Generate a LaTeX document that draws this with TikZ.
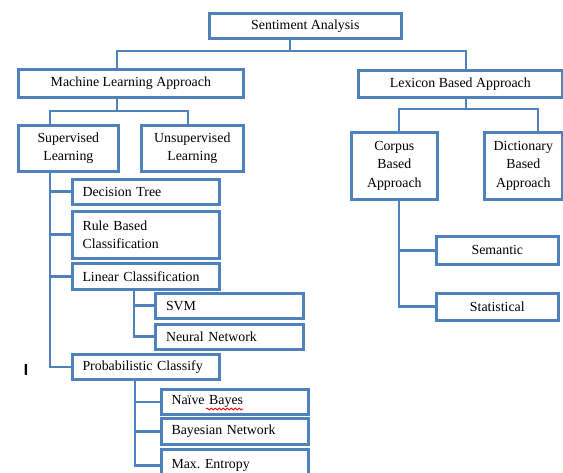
\documentclass[tikz,border=0pt]{standalone}
\usepackage{fontspec}
\setmainfont{Liberation Serif}
\usetikzlibrary{positioning,decorations.pathmorphing}
\definecolor{boxblue}{RGB}{79,129,189}

\tikzset{
  box/.style={draw=boxblue, line width=2pt, fill=white, inner sep=0pt,
    align=center, anchor=north west, font=\fontsize{10.4}{14}\selectfont},
  sz/.style 2 args={minimum width=#1*0.75pt, minimum height=#2*0.75pt},
  leaf/.style={box, align=left, text width=95pt, inner xsep=7.5pt},
  link/.style={draw=boxblue, line width=2pt},
  down/.style={to path={-| (\tikztotarget)}},
  side/.style={to path={|- (\tikztotarget)}},
}

\begin{document}
\begin{tikzpicture}[x=0.75pt, y=-0.75pt]
  \useasboundingbox (0,0) rectangle (563,473);
  % top levels
  \node[box, sz={192}{25}] (sa) at (208,12) {Sentiment Analysis};
  \node[box, sz={225}{28}] (ml) at (17,68) {Machine Learning Approach};
  \node[box, sz={204}{27}] (lex) at (357,69) {Lexicon Based Approach};
  \node[box, sz={100}{46}] (sup) at (17,124) {Supervised\\Learning};
  \node[box, sz={102}{46}] (uns) at (140,124) {Unsupervised\\Learning};
  \node[box, sz={86}{67}] (corp) at (350,131) {Corpus\\Based\\Approach};
  \node[box, sz={78}{67}] (dict) at (483,131) {Dictionary\\Based\\Approach};
  \node[box, sz={122}{28}] (sem) at (435,235) {Semantic};
  \node[box, sz={122}{27}] (stat) at (435,292) {Statistical};
  % supervised methods
  \node[leaf, sz={147}{25}] (dt) at (71,178) {Decision Tree};
  \node[leaf, sz={147}{47}] (rule) at (71,210) {Rule Based\\Classification};
  \node[leaf, sz={147}{26}] (lin) at (71,262) {Linear Classification};
  \node[leaf, sz={148}{25}] (svm) at (154,292) {SVM};
  \node[leaf, sz={148}{25}] (nn) at (154,323) {Neural Network};
  \node[leaf, sz={147}{25}] (prob) at (71,353) {Probabilistic Classify};
  \node[leaf, sz={147}{25}] (nb) at (160,388) {Naïve Bayes};
  \node[leaf, sz={147}{26}] (bn) at (160,417) {Bayesian Network};
  \node[leaf, sz={147}{32}] (me) at (160,448) {Max.\ Entropy};
  \node[font=\sffamily\bfseries\fontsize{12}{12}\selectfont] (cursor) at (26,370) {I};
  \draw[red, line width=0.6pt, decorate,
    decoration={snake, amplitude=0.7pt, segment length=3pt}] (206,409) -- (243,409);

  % junctions
  \coordinate (top-bus) at (290,51);
  \coordinate (ml-bus) at (117,111);
  \coordinate (lex-bus) at (466,109);
  \coordinate (sup-x) at (50,0);
  \coordinate (uns-x) at (188,0);
  \coordinate (corp-x) at (399,0);
  \coordinate (dict-x) at (538,0);
  \coordinate (lin-x) at (134,0);
  \coordinate (prob-x) at (135,0);

  \path[link]
    (sa.south -| top-bus) edge (top-bus)
    (top-bus) edge[down] (ml.north -| ml-bus)
              edge[down] (lex.north -| lex-bus)
    (ml.south -| ml-bus) edge (ml-bus)
    (ml-bus) edge[down] (sup.north -| sup-x)
             edge[down] (uns.north -| uns-x)
    (lex.south -| lex-bus) edge (lex-bus)
    (lex-bus) edge[down] (corp.north -| corp-x)
              edge[down] (dict.north -| dict-x)
    (sup.south -| sup-x) edge[side] (dt.west)
                         edge[side] (rule.west)
                         edge[side] (lin.west)
                         edge[side] (prob.west)
    (lin.south -| lin-x) edge[side] (svm.west)
                         edge[side] (nn.west)
    (prob.south -| prob-x) edge[side] (nb.west)
                           edge[side] (bn.west)
                           edge[side] (me.west)
    (corp.south -| corp-x) edge[side] (sem.west)
                           edge[side] (stat.west)
    ;
\end{tikzpicture}
\end{document}
